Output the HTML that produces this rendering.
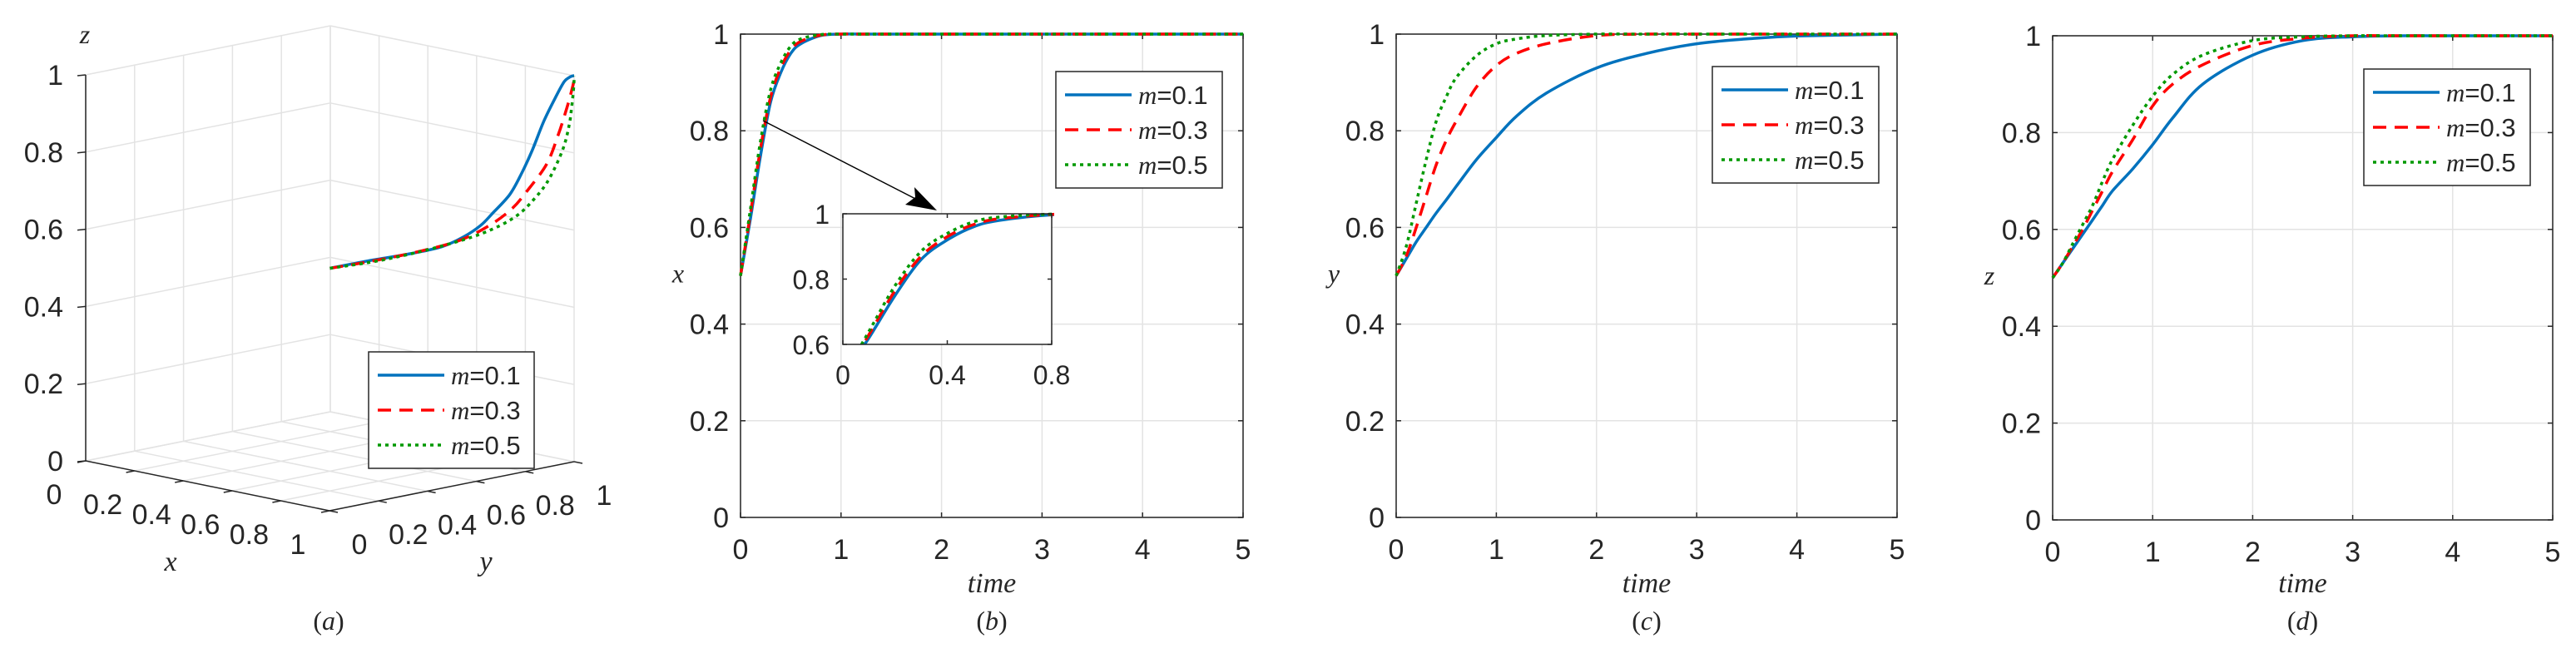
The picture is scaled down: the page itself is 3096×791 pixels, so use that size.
<!DOCTYPE html>
<html><head><meta charset="utf-8"><style>
html,body{margin:0;padding:0;background:#fff;}
svg{display:block;}
text{font-family:"Liberation Sans",sans-serif;fill:#262626;}
.it{font-family:"Liberation Serif",serif;font-style:italic;}
.sr{font-family:"Liberation Serif",serif;}
</style></head><body>
<svg id="fig" width="3096" height="791" viewBox="0 0 3096 791" xmlns="http://www.w3.org/2000/svg"></svg>
<script>
const times=[0,0.1,0.2,0.3,0.4,0.5,0.6,0.8,1,1.2,1.5,2,2.5,3,3.5,4,5];
const xM1=[0.5,0.62,0.75,0.86,0.92,0.96,0.98,0.997,1,1,1,1,1,1,1,1,1];
const xM3=[0.5,0.63,0.765,0.87,0.93,0.967,0.985,0.998,1,1,1,1,1,1,1,1,1];
const xM5=[0.5,0.64,0.78,0.885,0.94,0.975,0.99,0.999,1,1,1,1,1,1,1,1,1];
const yM1=[0.5,0.535,0.57,0.6,0.63,0.657,0.685,0.74,0.786,0.83,0.878,0.93,0.96,0.98,0.99,0.996,1];
const yM3=[0.5,0.54,0.6,0.665,0.73,0.78,0.82,0.89,0.935,0.96,0.98,0.997,1,1,1,1,1];
const yM5=[0.5,0.56,0.65,0.74,0.82,0.87,0.91,0.955,0.98,0.99,0.997,1,1,1,1,1,1];
const zM1=[0.5,0.53,0.56,0.59,0.62,0.65,0.68,0.725,0.775,0.83,0.9,0.96,0.99,0.998,1,1,1];
const zM3=[0.5,0.53,0.565,0.6,0.64,0.68,0.72,0.785,0.855,0.9,0.94,0.98,0.995,1,1,1,1];
const zM5=[0.5,0.53,0.57,0.61,0.65,0.7,0.745,0.815,0.875,0.92,0.96,0.99,0.998,1,1,1,1];
const legendLabels=["0.1","0.3","0.5"];
const timeTicks=[0,1,2,3,4,5];
const valTicks=[0,0.2,0.4,0.6,0.8,1];
const valTickLabels=["0","0.2","0.4","0.6","0.8","1"];
const insetXTicks=[0,0.4,0.8];
const insetXTickLabels=["0","0.4","0.8"];
const insetYTicks=[0.6,0.8,1];
const insetYTickLabels=["0.6","0.8","1"];

const NS="http://www.w3.org/2000/svg";
const svg=document.getElementById('fig');
const styles=[{c:"#0072BD",d:""},{c:"#FF0000",d:"16 10"},{c:"#009900",d:"4 5"}];
function mk(tag,attrs,parent,txt){const e=document.createElementNS(NS,tag);for(const k in attrs)e.setAttribute(k,attrs[k]);if(txt!==undefined)e.textContent=txt;(parent||svg).appendChild(e);return e;}
function smooth(P){
  let d='M'+P[0][0].toFixed(1)+','+P[0][1].toFixed(1);
  for(let i=0;i<P.length-1;i++){
    const p0=P[Math.max(i-1,0)],p1=P[i],p2=P[i+1],p3=P[Math.min(i+2,P.length-1)];
    const c1=[p1[0]+(p2[0]-p0[0])/6,p1[1]+(p2[1]-p0[1])/6];
    const c2=[p2[0]-(p3[0]-p1[0])/6,p2[1]-(p3[1]-p1[1])/6];
    d+=' C'+c1[0].toFixed(1)+','+c1[1].toFixed(1)+' '+c2[0].toFixed(1)+','+c2[1].toFixed(1)+' '+p2[0].toFixed(1)+','+p2[1].toFixed(1);
  }
  return d;
}

function legend(g,x,y,w,h){
  const lg=mk('g',{},g);
  
  
  mk('rect',{x:x,y:y,width:w,height:h,fill:'#fff',stroke:'#262626','stroke-width':1.5},lg);
  for(let i=0;i<3;i++){
    const cy=y+h*(0.2+0.3*i);
    const en=mk('g',{},lg);
    
    
    mk('line',{x1:x+11,x2:x+91,y1:cy,y2:cy,stroke:styles[i].c,'stroke-width':3.5,'stroke-dasharray':styles[i].d},en);
    const t=mk('text',{x:x+99,y:cy+11,'font-size':31},en);
    mk('tspan',{class:'it','font-size':31},t,'m');
    mk('tspan',{},t,'='+legendLabels[i]);
  }
}

function panel2d(name,L,R,T,B,series,ylab,ylabX,cap,lx,ly){
  const g=mk('g',{});
  
  
  const sx=v=>L+(R-L)*v/5, sy=v=>B-(B-T)*v;
  mk('rect',{x:L,y:T,width:R-L,height:B-T,fill:'#fff'},g);
  timeTicks.forEach(t=>{const X=sx(t);
    mk('line',{x1:X,x2:X,y1:T,y2:B,stroke:'#e3e3e3','stroke-width':1.5},g);
    mk('line',{x1:X,x2:X,y1:B,y2:B-6,stroke:'#262626','stroke-width':1.5},g);
    mk('line',{x1:X,x2:X,y1:T,y2:T+6,stroke:'#262626','stroke-width':1.5},g);
    mk('text',{x:X,y:B+50,'font-size':34,'text-anchor':'middle'},g,String(t));});
  valTicks.forEach((v,i)=>{const Y=sy(v);
    mk('line',{x1:L,x2:R,y1:Y,y2:Y,stroke:'#e3e3e3','stroke-width':1.5},g);
    mk('line',{x1:L,x2:L+6,y1:Y,y2:Y,stroke:'#262626','stroke-width':1.5},g);
    mk('line',{x1:R,x2:R-6,y1:Y,y2:Y,stroke:'#262626','stroke-width':1.5},g);
    mk('text',{x:L-14,y:Y+12,'font-size':34,'text-anchor':'end'},g,valTickLabels[i]);});
  mk('rect',{x:L,y:T,width:R-L,height:B-T,fill:'none',stroke:'#262626','stroke-width':1.5},g);
  series.forEach((s,i)=>{
    const pts=s.map((v,j)=>[sx(times[j]),sy(v)]);
    const p=mk('path',{d:smooth(pts),fill:'none',stroke:styles[i].c,'stroke-width':3.5,'stroke-dasharray':styles[i].d,'stroke-linejoin':'round'},g);
    
    
  });
  mk('text',{x:ylabX,y:(T+B)/2+8,'font-size':32,class:'it','text-anchor':'middle'},g,ylab);
  mk('text',{x:(L+R)/2,y:712,'font-size':34,class:'it','text-anchor':'middle'},g,'time');
  const c=mk('text',{x:(L+R)/2,y:757,'font-size':32,class:'sr','text-anchor':'middle'},g);
  mk('tspan',{},c,'(');mk('tspan',{class:'it'},c,cap);mk('tspan',{},c,')');
  legend(g,lx,ly,200,140);
  return {g,sx,sy};
}

const pb=panel2d('panel-b-x',890,1494,41,622,[xM1,xM3,xM5],'x',815,'b',1269,86);
const pc=panel2d('panel-c-y',1678,2280,41,622,[yM1,yM3,yM5],'y',1603,'c',2058,80);
const pd=panel2d('panel-d-z',2467,3068,43,625,[zM1,zM3,zM5],'z',2391,'d',2841,83);

(function(){
  const g=mk('g',{},pb.g);
  
  
  const L=1013,R=1264,T=257,B=414;
  const sx=v=>L+(R-L)*v/0.8, sy=v=>B-(B-T)*(v-0.6)/0.4;
  mk('rect',{x:L,y:T,width:R-L,height:B-T,fill:'#fff'},g);
  const cp=mk('clipPath',{id:'ic'},g);mk('rect',{x:L,y:T-3,width:R-L+3,height:B-T+3},cp);
  [xM1,xM3,xM5].forEach((s,i)=>{
    const pts=s.map((v,j)=>[sx(times[j]),sy(v)]);
    const p=mk('path',{d:smooth(pts),fill:'none',stroke:styles[i].c,'stroke-width':3.5,'stroke-dasharray':styles[i].d,'clip-path':'url(#ic)'},g);
    
    
  });
  mk('rect',{x:L,y:T,width:R-L,height:B-T,fill:'none',stroke:'#262626','stroke-width':1.5},g);
  insetXTicks.forEach((t,i)=>{const X=sx(t);
    mk('line',{x1:X,x2:X,y1:B,y2:B-5,stroke:'#262626','stroke-width':1.5},g);
    mk('line',{x1:X,x2:X,y1:T,y2:T+5,stroke:'#262626','stroke-width':1.5},g);
    mk('text',{x:X,y:B+48,'font-size':32,'text-anchor':'middle'},g,insetXTickLabels[i]);});
  insetYTicks.forEach((v,i)=>{const Y=sy(v);
    mk('line',{x1:L,x2:L+5,y1:Y,y2:Y,stroke:'#262626','stroke-width':1.5},g);
    mk('line',{x1:R,x2:R-5,y1:Y,y2:Y,stroke:'#262626','stroke-width':1.5},g);
    mk('text',{x:L-16,y:Y+12,'font-size':32,'text-anchor':'end'},g,insetYTickLabels[i]);});
  const a=mk('g',{},pb.g);
  
  
  mk('line',{x1:917,y1:145,x2:1110,y2:244,stroke:'#000','stroke-width':1.5},a);
  mk('polygon',{points:'1126,253 1088,246 1100,237 1099,225',fill:'#000'},a);
})();

(function(){
  const g=mk('g',{});
  
  
  const Lc=[103,554],F=[396,614],Rc=[690,555],H=464;
  const P=(x,y,z)=>[Lc[0]+x*(F[0]-Lc[0])+y*(Rc[0]-F[0]), Lc[1]+x*(F[1]-Lc[1])+y*(Rc[1]-F[1])-z*H];
  const ln=(a,b,st,w)=>mk('line',{x1:a[0],y1:a[1],x2:b[0],y2:b[1],stroke:st,'stroke-width':w||1.5},g);
  const gc='#e3e3e3';
  valTicks.forEach(v=>{
    ln(P(0,0,v),P(0,1,v),gc); ln(P(0,v,0),P(0,v,1),gc);
    ln(P(0,1,v),P(1,1,v),gc); ln(P(v,1,0),P(v,1,1),gc);
    ln(P(v,0,0),P(v,1,0),gc); ln(P(0,v,0),P(1,v,0),gc);
  });
  ln(P(0,0,0),P(0,0,1),'#262626'); ln(P(0,0,0),P(1,0,0),'#262626'); ln(P(1,0,0),P(1,1,0),'#262626');
  valTicks.forEach((v,i)=>{
    const a=P(0,0,v); ln(a,[a[0]-10,a[1]+1],'#262626');
    mk('text',{x:76,y:a[1]+12,'font-size':34,'text-anchor':'end'},g,valTickLabels[i]);
    const b=P(v,0,0); ln(b,[b[0]-10,b[1]+2],'#262626');
    mk('text',{x:b[0]-38,y:b[1]+52,'font-size':34,'text-anchor':'middle'},g,valTickLabels[i]);
    const c=P(1,v,0); ln(c,[c[0]+10,c[1]+2],'#262626');
    mk('text',{x:c[0]+36,y:c[1]+52,'font-size':34,'text-anchor':'middle'},g,valTickLabels[i]);
  });
  [[xM1,yM1,zM1],[xM3,yM3,zM3],[xM5,yM5,zM5]].forEach((s,i)=>{
    const pts=times.map((t,j)=>P(s[0][j],s[1][j],s[2][j]));
    const p=mk('path',{d:smooth(pts),fill:'none',stroke:styles[i].c,'stroke-width':3.5,'stroke-dasharray':styles[i].d},g);
    
    
  });
  mk('text',{x:205,y:686,'font-size':34,class:'it','text-anchor':'middle'},g,'x');
  mk('text',{x:584,y:686,'font-size':34,class:'it','text-anchor':'middle'},g,'y');
  mk('text',{x:102,y:52,'font-size':32,class:'it','text-anchor':'middle'},g,'z');
  const c=mk('text',{x:395,y:757,'font-size':32,class:'sr','text-anchor':'middle'},g);
  mk('tspan',{},c,'(');mk('tspan',{class:'it'},c,'a');mk('tspan',{},c,')');
  legend(g,443,423,199,140);
})();
</script>
</body></html>
